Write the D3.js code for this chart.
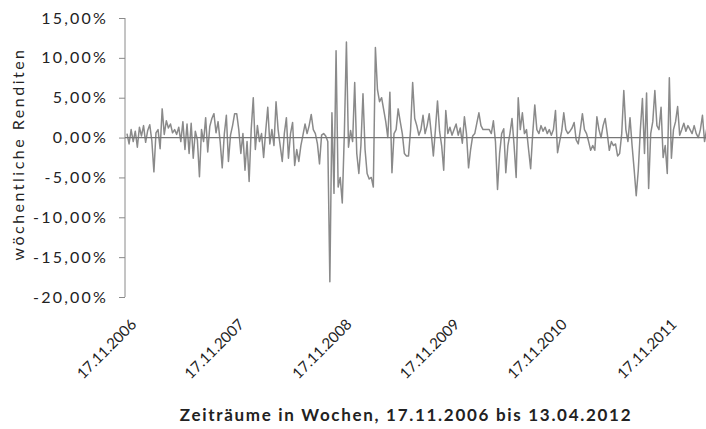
<!DOCTYPE html>
<html>
<head>
<meta charset="utf-8">
<script src="https://cdn.jsdelivr.net/npm/d3@7"></script>
<style>
  body { margin: 0; background: #fff; }
  svg text { font-family: Lato, "Open Sans", sans-serif; fill: #222; }
</style>
</head>
<body>
<div id="chart"></div>
<script>
// weekly returns in percent, 17.11.2006 .. 13.04.2012
const returns = [
  0.5, -0.8, 1.0, -0.5, 0.8, -1.2, 1.3, 0.2, 1.5, -0.6,
  0.9, 1.6, -0.4, -4.3, 0.6, 1.0, -1.4, 3.6, 0.4, 2.1,
  1.2, 1.7, 0.6, 1.0, 0.4, 1.3, -0.5, 2.0, -1.5, 1.7,
  -2.0, 1.8, -2.6, 0.8, -0.3, -4.9, 1.0, -0.5, 2.5, -1.8,
  1.4, 2.4, 3.0, 0.6, 2.0, -0.5, -3.8, 0.4, 2.8, -3.0,
  0.3, 1.5, 3.0, 3.0, 1.0, -2.0, 0.5, -4.1, -0.5, -5.5,
  1.0, 5.0, -1.5, 1.5, -0.5, 0.5, -2.5, 0.8, 3.8, -0.8,
  1.0, -1.0, 4.5, 1.0, -1.0, -3.0, 0.5, 2.5, -2.6, 0.5,
  1.9, -3.5, -1.5, -3.0, -1.0, 0.3, 1.7, 0.5, 1.5, 2.9,
  1.0, 0.5, -0.8, -3.3, 0.3, 0.5, 0.2, -0.5, -18.1, 3.1,
  -7.0, 10.9, -6.2, -5.0, -8.2, 0.5, 12.0, -1.2, 0.9, -0.5,
  6.9, -2.0, -4.5, -1.0, 5.5, -1.5, -4.5, -5.2, -5.0, -6.2,
  11.3, 6.0, 4.5, 5.0, 3.5, 2.0, 0.0, 5.7, -4.4, 0.5,
  1.0, 3.6, 2.0, 0.5, -2.0, -2.3, -2.3, 1.0, 6.9, 2.4,
  1.5, 0.3, 1.0, 2.8, 0.5, 1.5, 3.0, 0.5, -2.3, 1.0,
  4.6, 0.8, -1.0, -4.1, 3.4, 0.5, 1.3, 0.3, 1.0, 1.7,
  0.3, 1.2, -0.7, 2.6, 0.5, -3.8, -1.5, 0.2, 0.5, 1.8,
  3.1, 1.5, 1.0, 1.0, 1.0, 1.0, 0.5, 2.1, -0.5, -6.5,
  -2.0, 0.5, 1.1, -4.4, -1.0, 0.5, 2.4, -1.0, -5.0, 5.0,
  1.0, 3.1, 0.5, 1.0, -1.5, -3.9, 0.5, 4.1, 1.0, 0.5,
  1.5, 0.8, 1.3, 0.5, 1.0, 0.3, 1.0, 3.4, -1.9, -0.5,
  0.8, 3.1, 1.0, 0.5, 0.8, 1.2, 1.9, -0.3, -0.8, 1.0,
  3.0, 1.0, 0.5, -0.5, -1.6, -1.0, -1.6, 2.6, 1.0, 0.0,
  1.5, 2.4, 0.5, -1.6, -0.5, -1.0, -0.8, -2.3, -2.0, 0.5,
  5.9, 1.0, -0.5, 2.5, -1.0, -4.0, -7.3, -4.1, 1.0, 4.9,
  -2.0, 5.6, -6.4, 0.5, 2.0, 5.9, 1.5, 1.0, 3.8, -2.5,
  -1.0, -4.5, 7.5, -2.6, 1.0, 2.0, 3.9, 0.3, 1.0, 1.8,
  0.8, 1.5, 1.0, 0.5, 1.5, 0.5, 0.0, 1.0, 2.8, -0.5,
  1.0, -1.0, 0.5
];
const yTicks = [15, 10, 5, 0, -5, -10, -15, -20];
const xTickWeeks = [0, 52, 104, 156, 208, 261];
const xTickLabels = ["17.11.2006", "17.11.2007", "17.11.2008", "17.11.2009", "17.11.2010", "17.11.2011"];
const xTitle = "Zeiträume in Wochen, 17.11.2006 bis 13.04.2012";
const yTitle = "wöchentliche Renditen";

const width = 706, height = 429;

const x = d3.scaleLinear()
    .domain([0, returns.length - 1])
    .range([127, 127 + (returns.length - 1) * 2.07]);
const y = d3.scaleLinear()
    .domain([-20, 15])
    .range([297, 18]);

// german number format, plain hyphen as minus
const fmt = v => d3.format(".2f")(v).replace(".", ",").replace("\u2212", "-") + "%";

const svg = d3.select("#chart").append("svg")
    .attr("width", width)
    .attr("height", height);

// y axis
const yAxis = svg.append("g")
    .attr("transform", "translate(125,0)")
    .call(d3.axisLeft(y).tickValues(yTicks).tickSize(6).tickFormat(fmt));
yAxis.select(".domain").attr("stroke", "#8a8a8a").attr("d", "M0," + y(15) + "V" + y(-20));
yAxis.selectAll(".tick line").attr("stroke", "#8a8a8a");
yAxis.selectAll(".tick text")
    .style("font-size", "16px")
    .style("letter-spacing", "2.2px")
    .style("fill", "#222")
    .attr("x", -17);

// series
const line = d3.line()
    .x((d, i) => x(i))
    .y(d => y(d));

svg.append("path")
    .datum(returns)
    .attr("fill", "none")
    .attr("stroke", "#8a8a8a")
    .attr("stroke-width", 1.5)
    .attr("stroke-linejoin", "round")
    .attr("d", line);

// zero line (category axis)
svg.append("line")
    .attr("x1", 125).attr("x2", width)
    .attr("y1", y(0)).attr("y2", y(0))
    .attr("stroke", "#777")
    .attr("stroke-width", 1.3);

// x tick labels at the bottom, rotated
const xl = svg.append("g");
xl.selectAll("text")
    .data(xTickWeeks)
    .enter().append("text")
    .attr("transform", (d) => "translate(" + (x(d) + 3) + ",318) rotate(-45)")
    .attr("text-anchor", "end")
    .attr("dy", "0.7em")
    .style("font-size", "15px")
    .text((d, i) => xTickLabels[i]);

// titles
svg.append("text")
    .attr("x", 406)
    .attr("y", 421)
    .attr("text-anchor", "middle")
    .style("font-size", "17px")
    .style("font-weight", "bold")
    .style("letter-spacing", "1.7px")
    .text(xTitle);

svg.append("text")
    .attr("transform", "translate(24,154) rotate(-90)")
    .attr("text-anchor", "middle")
    .style("font-size", "16px")
    .style("letter-spacing", "2.5px")
    .text(yTitle);
</script>
</body>
</html>
